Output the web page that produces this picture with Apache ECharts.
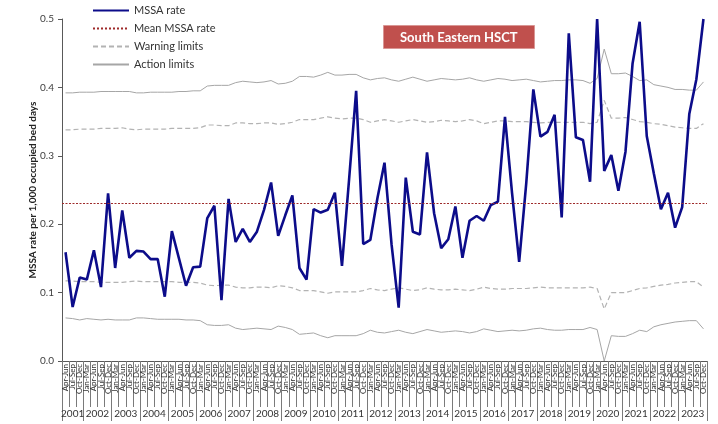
<!DOCTYPE html>
<html>
<head>
<meta charset="utf-8">
<script src="https://cdn.jsdelivr.net/npm/echarts@6/dist/echarts.min.js"></script>
<style>
  html, body { margin: 0; padding: 0; background: #fff; }
  #chart { width: 718px; height: 424px; }
</style>
</head>
<body>
<div id="chart"></div>
<script>
// quarters: 2001 starts at Apr-Jun, 2023 ends at Oct-Dec
var years = [2001, 2002, 2003, 2004, 2005, 2006, 2007, 2008, 2009, 2010, 2011, 2012,
             2013, 2014, 2015, 2016, 2017, 2018, 2019, 2020, 2021, 2022, 2023];
var quarterNames = ['Jan-Mar', 'Apr-Jun', 'Jul-Sep', 'Oct-Dec'];

var mssaRate = [
  0.159, 0.079, 0.122,
  0.119, 0.162, 0.108, 0.245,
  0.136, 0.220, 0.151, 0.161,
  0.160, 0.149, 0.149, 0.094,
  0.190, 0.150, 0.110, 0.137,
  0.138, 0.209, 0.227, 0.089,
  0.237, 0.174, 0.193, 0.174,
  0.189, 0.221, 0.261, 0.183,
  0.213, 0.242, 0.136, 0.119,
  0.222, 0.217, 0.221, 0.246,
  0.139, 0.265, 0.395, 0.171,
  0.177, 0.238, 0.290, 0.170,
  0.078, 0.268, 0.189, 0.185,
  0.305, 0.216, 0.165, 0.178,
  0.226, 0.151, 0.205, 0.212,
  0.205, 0.228, 0.233, 0.357,
  0.245, 0.145, 0.260, 0.397,
  0.328, 0.335, 0.360, 0.210,
  0.479, 0.327, 0.323, 0.262,
  0.500, 0.278, 0.301, 0.249,
  0.306, 0.435, 0.496, 0.329,
  0.274, 0.222, 0.246, 0.195,
  0.225, 0.361, 0.412, 0.500
];

var meanRate = 0.228;

var upperAction = [
  0.392, 0.392, 0.393,
  0.393, 0.393, 0.394, 0.394,
  0.394, 0.394, 0.394, 0.392,
  0.392, 0.393, 0.393, 0.393,
  0.393, 0.394, 0.394, 0.395,
  0.395, 0.402, 0.403, 0.403,
  0.403, 0.407, 0.409, 0.408,
  0.407, 0.408, 0.410, 0.405,
  0.406, 0.409, 0.416, 0.416,
  0.415, 0.418, 0.422, 0.418,
  0.418, 0.419, 0.419, 0.414,
  0.411, 0.413, 0.414, 0.411,
  0.409, 0.412, 0.415, 0.412,
  0.409, 0.411, 0.413, 0.412,
  0.411, 0.412, 0.414, 0.411,
  0.409, 0.411, 0.413, 0.412,
  0.410, 0.411, 0.412, 0.410,
  0.408, 0.409, 0.410, 0.410,
  0.411, 0.411, 0.410, 0.406,
  0.413, 0.456, 0.420, 0.420,
  0.421, 0.416, 0.410, 0.411,
  0.404, 0.402, 0.400, 0.397,
  0.397, 0.396, 0.396, 0.408
];

var upperWarning = [
  0.338, 0.338, 0.339,
  0.339, 0.339, 0.340, 0.340,
  0.340, 0.341, 0.339, 0.338,
  0.339, 0.339, 0.339, 0.339,
  0.340, 0.340, 0.340, 0.340,
  0.341, 0.345, 0.345, 0.344,
  0.344, 0.348, 0.348, 0.347,
  0.347, 0.348, 0.348, 0.346,
  0.347, 0.349, 0.353, 0.353,
  0.353, 0.355, 0.357, 0.355,
  0.354, 0.355, 0.355, 0.353,
  0.349, 0.351, 0.353, 0.351,
  0.349, 0.351, 0.353, 0.351,
  0.349, 0.350, 0.352, 0.351,
  0.350, 0.351, 0.353, 0.351,
  0.347, 0.349, 0.351, 0.351,
  0.350, 0.350, 0.350, 0.349,
  0.348, 0.349, 0.349, 0.349,
  0.349, 0.349, 0.349, 0.347,
  0.349, 0.381, 0.355, 0.355,
  0.356, 0.353, 0.350, 0.349,
  0.347, 0.346, 0.344, 0.342,
  0.341, 0.340, 0.340, 0.347
];

var lowerWarning = [
  0.117, 0.117, 0.116,
  0.116, 0.116, 0.115, 0.115,
  0.115, 0.115, 0.116, 0.117,
  0.116, 0.116, 0.116, 0.116,
  0.116, 0.115, 0.115, 0.115,
  0.114, 0.111, 0.110, 0.111,
  0.111, 0.108, 0.107, 0.107,
  0.108, 0.108, 0.107, 0.110,
  0.109, 0.107, 0.103, 0.103,
  0.103, 0.101, 0.099, 0.101,
  0.101, 0.101, 0.101, 0.103,
  0.106, 0.104, 0.103, 0.105,
  0.107, 0.105, 0.103, 0.104,
  0.107, 0.105, 0.104, 0.104,
  0.105, 0.104, 0.103, 0.105,
  0.108, 0.106, 0.105, 0.105,
  0.106, 0.106, 0.106, 0.107,
  0.108, 0.107, 0.107, 0.107,
  0.107, 0.107, 0.107, 0.108,
  0.106, 0.076, 0.100, 0.100,
  0.100, 0.103, 0.106, 0.107,
  0.109, 0.111, 0.112, 0.114,
  0.115, 0.116, 0.116, 0.108
];

var lowerAction = [
  0.063, 0.062, 0.060,
  0.062, 0.061, 0.060, 0.061,
  0.060, 0.060, 0.060, 0.063,
  0.063, 0.062, 0.061, 0.061,
  0.061, 0.061, 0.060, 0.060,
  0.059, 0.053, 0.052, 0.052,
  0.053, 0.048, 0.046, 0.047,
  0.048, 0.047, 0.046, 0.051,
  0.049, 0.046, 0.039, 0.040,
  0.041, 0.037, 0.034, 0.037,
  0.037, 0.037, 0.037, 0.040,
  0.045, 0.042, 0.041, 0.043,
  0.045, 0.042, 0.040, 0.043,
  0.046, 0.044, 0.042, 0.043,
  0.044, 0.043, 0.041, 0.043,
  0.047, 0.045, 0.043, 0.044,
  0.045, 0.044, 0.045, 0.047,
  0.048, 0.046, 0.045, 0.045,
  0.046, 0.046, 0.046, 0.049,
  0.046, 0.000, 0.037, 0.036,
  0.036, 0.040, 0.045, 0.043,
  0.050, 0.053, 0.055, 0.057,
  0.058, 0.059, 0.059, 0.047
];

// build the category list (quarter name + which year it belongs to)
var categories = [];
var categoryYears = [];
years.forEach(function (y) {
  quarterNames.forEach(function (q, k) {
    if (y === 2001 && k === 0) return;
    categories.push(q);
    categoryYears.push(String(y));
  });
});

// year label sits on the middle quarter; even-length years need a half-band nudge
var yearLabelAt = {};
years.forEach(function (y) {
  var first = categoryYears.indexOf(String(y));
  var last = categoryYears.lastIndexOf(String(y));
  var mid = Math.floor((first + last) / 2);
  yearLabelAt[mid] = ((last - first) % 2 === 1) ? 'shift' : 'center';
});

var font = 'Lato';
var tickColor = '#7a7a7a';
var chart = echarts.init(document.getElementById('chart'));

var option = {
  animation: false,
  backgroundColor: '#fff',
  textStyle: { fontFamily: font },
  title: {
    text: 'South Eastern HSCT',
    left: 383,
    top: 25,
    backgroundColor: '#c0504d',
    borderColor: '#d99694',
    borderWidth: 1,
    padding: [6, 17, 5, 17],
    textStyle: { color: '#fff', fontSize: 13, fontWeight: 'bold', fontFamily: font }
  },
  legend: {
    orient: 'vertical',
    left: 92,
    top: 5,
    padding: 0,
    itemWidth: 36,
    itemHeight: 10,
    itemGap: 7,
    itemStyle: { opacity: 0 },   // hide the dot drawn on line legend icons
    textStyle: { fontSize: 11, color: '#333', fontFamily: font },
    data: ['MSSA rate', 'Mean MSSA rate', 'Warning limits', 'Action limits']
  },
  grid: { left: 62, right: 11, top: 19, bottom: 63 },
  xAxis: [{
    type: 'category',
    data: categories,
    axisLine: { show: true, lineStyle: { color: '#595959' } },
    axisTick: { show: true, interval: 0, length: 46, lineStyle: { color: tickColor } },
    axisLabel: { interval: 0, rotate: 90, fontSize: 8, margin: 3, color: '#333', fontFamily: font }
  }, {
    type: 'category',
    data: categoryYears,
    position: 'bottom',
    offset: 46,
    axisLine: { show: true, lineStyle: { opacity: 0 } },
    axisTick: {
      show: true,
      length: 14,
      lineStyle: { color: tickColor },
      interval: function (i) {
        return i === 0 || categoryYears[i] !== categoryYears[i - 1];
      }
    },
    axisLabel: {
      margin: 2,
      color: '#333',
      fontSize: 10,
      fontFamily: font,
      interval: function (i) { return yearLabelAt[i] !== undefined; },
      formatter: function (v, i) {
        return yearLabelAt[i] === 'shift' ? '{s|' + v + '}' : '{c|' + v + '}';
      },
      rich: {
        s: { padding: [0, 0, 0, 7], fontSize: 10, color: '#333', fontFamily: font },
        c: { fontSize: 10, color: '#333', fontFamily: font }
      }
    }
  }],
  yAxis: {
    type: 'value',
    min: 0,
    max: 0.5,
    interval: 0.1,
    name: 'MSSA rate per 1,000 occupied bed days',
    nameLocation: 'middle',
    nameGap: 24,
    nameMoveOverlap: false,
    nameTextStyle: { fontSize: 10, fontWeight: 'bold', color: '#222', fontFamily: font },
    axisLine: { show: true, lineStyle: { color: '#595959' } },
    axisTick: { show: true, length: 4, lineStyle: { color: '#595959' } },
    splitLine: { show: false },
    axisLabel: {
      fontSize: 10, color: '#404040', margin: 8, fontFamily: font,
      formatter: function (v) { return v.toFixed(1); }
    }
  },
  series: [{
    name: 'Action limits',
    type: 'line',
    data: upperAction,
    symbol: 'none',
    itemStyle: { color: '#a6a6a6' },
    lineStyle: { color: '#a6a6a6', width: 1 }
  }, {
    name: 'Action limits',
    type: 'line',
    data: lowerAction,
    symbol: 'none',
    itemStyle: { color: '#a6a6a6' },
    lineStyle: { color: '#a6a6a6', width: 1 }
  }, {
    name: 'Warning limits',
    type: 'line',
    data: upperWarning,
    symbol: 'none',
    itemStyle: { color: '#a6a6a6' },
    lineStyle: { color: '#b3b3b3', width: 1.2, type: [5, 3] }
  }, {
    name: 'Warning limits',
    type: 'line',
    data: lowerWarning,
    symbol: 'none',
    itemStyle: { color: '#a6a6a6' },
    lineStyle: { color: '#b3b3b3', width: 1.2, type: [5, 3] }
  }, {
    name: 'Mean MSSA rate',
    type: 'line',
    data: [],
    symbol: 'none',
    itemStyle: { color: '#9e2a2a' },
    lineStyle: { color: '#9e2a2a', width: 1, type: [2, 2] },
    markLine: {
      silent: true,
      symbol: 'none',
      label: { show: false },
      lineStyle: { color: '#9e2a2a', width: 1, type: [2, 1.5] },
      data: [{ yAxis: meanRate }]
    }
  }, {
    name: 'MSSA rate',
    type: 'line',
    data: mssaRate,
    symbol: 'none',
    itemStyle: { color: '#0c0c8a' },
    lineStyle: { color: '#0c0c8a', width: 2.6 }
  }]
};

chart.setOption(option);
</script>
</body>
</html>
